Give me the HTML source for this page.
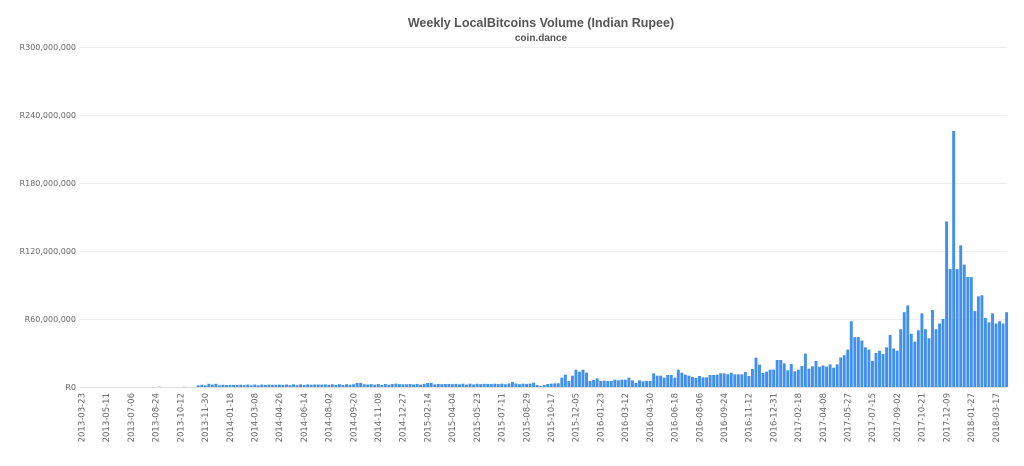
<!DOCTYPE html>
<html><head><meta charset="utf-8"><style>
body{margin:0;background:#fff;}
svg{display:block;font-family:"Liberation Sans","DejaVu Sans",sans-serif;}
.ax{font-family:"DejaVu Sans",sans-serif;}
</style></head><body>
<svg id="s" width="1024" height="466" viewBox="0 0 1024 466" xmlns="http://www.w3.org/2000/svg">
<text x="541" y="27" text-anchor="middle" font-size="12.5" font-weight="bold" fill="#555">Weekly LocalBitcoins Volume (Indian Rupee)</text>
<text x="541" y="41" text-anchor="middle" font-size="10" font-weight="bold" fill="#555">coin.dance</text>
<g id="grid"></g><g id="bars"></g><g id="xl"></g>
</svg>
<script>
var NS="http://www.w3.org/2000/svg",s=document.getElementById('s');
function el(t,a,p,txt){var e=document.createElementNS(NS,t);for(var k in a)e.setAttribute(k,a[k]);if(txt!=null)e.textContent=txt;document.getElementById(p).appendChild(e);return e;}
var base=387,pxM=68/60,x0=80,w=3.53;
var labs=["R0","R60,000,000","R120,000,000","R180,000,000","R240,000,000","R300,000,000"];
for(var i=0;i<6;i++){var y=base-68*i;el('line',{x1:80,x2:1007,y1:y+0.5,y2:y+0.5,stroke:i==0?'#ddd':'#eee','stroke-width':1},'grid');
el('text',{x:76,y:y+3,'text-anchor':'end','font-size':8,fill:'#666','class':'ax'},'grid',labs[i]);}
var v=[];
for(var i=0;i<128;i++){var val=0;
 if(i==22)val=0.3;if(i==29)val=0.2;
 if(i>=33){val=1.2+0.8*Math.abs(Math.sin(i*1.7))+ (i-33)*0.012; if(i>=36&&i<=38)val+=0.8;if(i==78||i==79)val=3.5;if(i==89)val=3;if(i==98||i==99)val=3.6;if(i==122)val=4.5;}
 v.push(val);}
var tops=[245,252,255,252,249,248,247,247,230,221,240,224,206,212,206,215,240,237,232,240,239,240,240,236,238,236,236,230,238,246,238,241,240,240,217,224,224,230,222,222,230,206,215,221,224,228,231,225,229,229,222,222,221,217,217,220,215,220,220,220,213,225,204,170,191,216,212,206,206,177,177,187,208,189,211,206,195,158,203,196,180,197];
tops.forEach(function(t){v.push((258-t)/3.4);});
[19,18,20,17,20,26,28,33,58,44,44,41,35,33,23,30,32,29,35,46,34,32,51,66,72,47,40,50,65,51,43,68,51,56,60,146,104,226,104,125,108,97,97,67,80,81,61,57,65,56,58,56,66].forEach(function(m){v.push(m);});
v.forEach(function(m,i){if(m<=0)return;var h=m*pxM;el('rect',{x:(x0+i*w+0.3).toFixed(2),y:(base-h).toFixed(2),width:2.9,height:h.toFixed(2),fill:'#4190f0'},'bars');});
var L=["2013-03-23","2013-05-11","2013-07-06","2013-08-24","2013-10-12","2013-11-30","2014-01-18","2014-03-08","2014-04-26","2014-06-14","2014-08-02","2014-09-20","2014-11-08","2014-12-27","2015-02-14","2015-04-04","2015-05-23","2015-07-11","2015-08-29","2015-10-17","2015-12-05","2016-01-23","2016-03-12","2016-04-30","2016-06-18","2016-08-06","2016-09-24","2016-11-12","2016-12-31","2017-02-18","2017-04-08","2017-05-27","2017-07-15","2017-09-02","2017-10-21","2017-12-09","2018-01-27","2018-03-17"];
L.forEach(function(str,k){var x=x0+k*7*w+1.5;
 el('text',{x:0,y:0,transform:'translate('+(x+3).toFixed(1)+',393) rotate(-90)','text-anchor':'end','font-size':8.5,fill:'#666','class':'ax'},'xl',str);});
</script>
</body></html>
